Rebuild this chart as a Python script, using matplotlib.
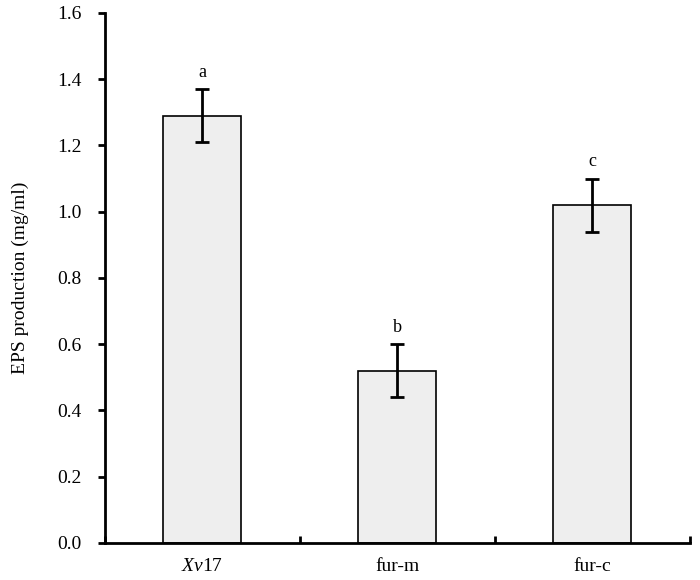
import matplotlib
matplotlib.use("Agg")
import matplotlib.pyplot as plt
import numpy as np

# data
strains = ["Xv17", "fur-m", "fur-c"]
eps = [1.29, 0.52, 1.02]
eps_err = [0.08, 0.08, 0.08]
letters = ["a", "b", "c"]

plt.rcParams['font.family'] = ['Liberation Serif', 'DejaVu Serif']
plt.rcParams['mathtext.fontset'] = 'custom'
plt.rcParams['mathtext.rm'] = 'Liberation Serif'
plt.rcParams['mathtext.it'] = 'Liberation Serif:italic'

fig = plt.figure(figsize=(7, 5.8), dpi=100)
ax = fig.add_axes([0.15, 0.0638, 0.8357, 0.9138])

x = np.arange(len(strains))
ax.bar(x, eps, width=0.4, color='#eeeeee', edgecolor='black', linewidth=1.2, zorder=2)
ax.errorbar(x, eps, yerr=eps_err, fmt='none', ecolor='black', elinewidth=2,
            capsize=5, capthick=2, zorder=3)
for xi, v, e, l in zip(x, eps, eps_err, letters):
    ax.text(xi, v + e + 0.025, l, ha='center', va='bottom', fontsize=13)

ax.set_xlim(-0.5, 2.5)
ax.set_ylim(0, 1.6)
ax.set_yticks(np.arange(0, 1.61, 0.2))
ax.set_yticklabels([f"{t:.1f}" for t in np.arange(0, 1.61, 0.2)])
ax.set_xticks(np.arange(-0.5, 2.6, 1.0))
ax.set_xticklabels([])
ax.set_xticks(x, minor=True)
ax.set_xticklabels([r"$\mathit{Xv}$17", "fur-m", "fur-c"], minor=True)

for s in ['top', 'right']:
    ax.spines[s].set_visible(False)
for s in ['left', 'bottom']:
    ax.spines[s].set_linewidth(2)

ax.tick_params(axis='y', direction='out', length=5, width=2, labelsize=14, pad=12)
ax.tick_params(axis='x', which='major', direction='in', length=5, width=2)
ax.tick_params(axis='x', which='minor', length=0, labelsize=14, pad=11)

ax.set_ylabel("EPS production (mg/ml)", fontsize=14, labelpad=20)

fig.savefig("out.png", dpi=100)
